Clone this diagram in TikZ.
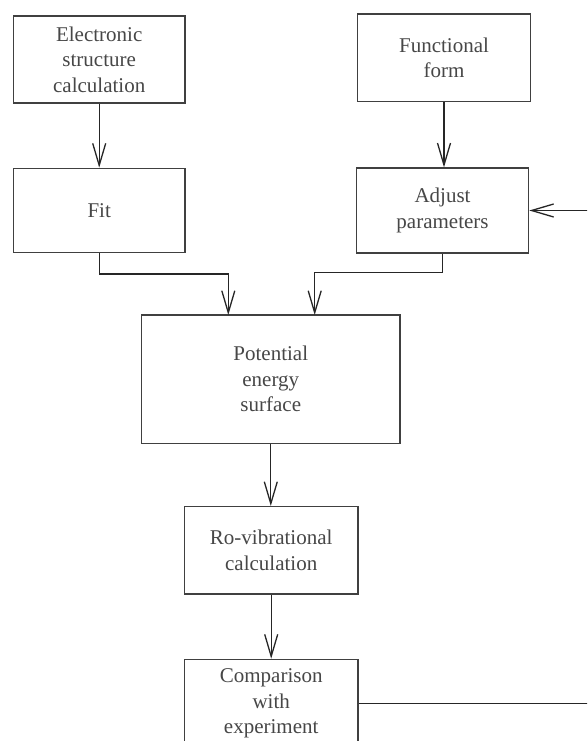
\documentclass[tikz,border=0pt]{standalone}
\usepackage{fontspec}
\setmainfont{Liberation Serif}
\usetikzlibrary{arrows.meta}
\begin{document}
\begin{tikzpicture}[x=1pt,y=-1pt,
  box/.style={draw=black!75, line width=1.3pt, rectangle, inner sep=0pt, align=center,
    text=black!72, font=\fontsize{21}{25.5}\selectfont},
  arr/.style={draw=black!85, line width=1.3pt, -{Straight Barb[length=22pt,width=13pt,line width=1.3pt]}},
  conn/.style={draw=black!85, line width=1.3pt}]
\useasboundingbox (0,0) rectangle (587,741);
\clip (0,0) rectangle (587,741);
\fill[white] (0,0) rectangle (587,741);
\node[box, minimum width=171.7pt, minimum height=87pt] (esc) at (99.2,59.5) {Electronic\\structure\\calculation};
\node[box, minimum width=173.4pt, minimum height=87.7pt] (fun) at (444,57.8) {Functional\\form};
\node[box, minimum width=171.7pt, minimum height=84.4pt] (fit) at (99.2,210.5) {Fit};
\node[box, minimum width=172.4pt, minimum height=85pt] (adj) at (442.5,210.5) {Adjust\\parameters};
\node[box, minimum width=258.3pt, minimum height=128.3pt] (pes) at (270.8,379.2) {Potential\\energy\\surface};
\node[box, minimum width=173.7pt, minimum height=87.3pt] (rov) at (271.2,550.3) {Ro-vibrational\\calculation};
\node[box, minimum width=173.7pt, minimum height=88pt] (cmp) at (271.2,703.3) {Comparison\\with\\experiment};
\coordinate (pin1) at (228.3,315);
\coordinate (pin2) at (314.7,315);
\coordinate (bend1) at (99.2,274);
\coordinate (bend2) at (442.5,272.7);
\coordinate (fbr) at (600,703.3);
\coordinate (fbt) at (600,210.5);
\draw[arr] (esc.south) -- (fit.north);
\draw[arr] (fun.south) -- (fun.south |- adj.north);
\draw[arr] (fit.south) -- (bend1) -| (pin1);
\draw[arr] (adj.south) -- (bend2) -| (pin2);
\draw[arr] (pes.south) -- (pes.south |- rov.north);
\draw[arr] (rov.south) -- (rov.south |- cmp.north);
\draw[conn] (cmp.east) -- (fbr) -- (fbt);
\draw[arr] (fbt) -- (adj.east);
\end{tikzpicture}
\end{document}
